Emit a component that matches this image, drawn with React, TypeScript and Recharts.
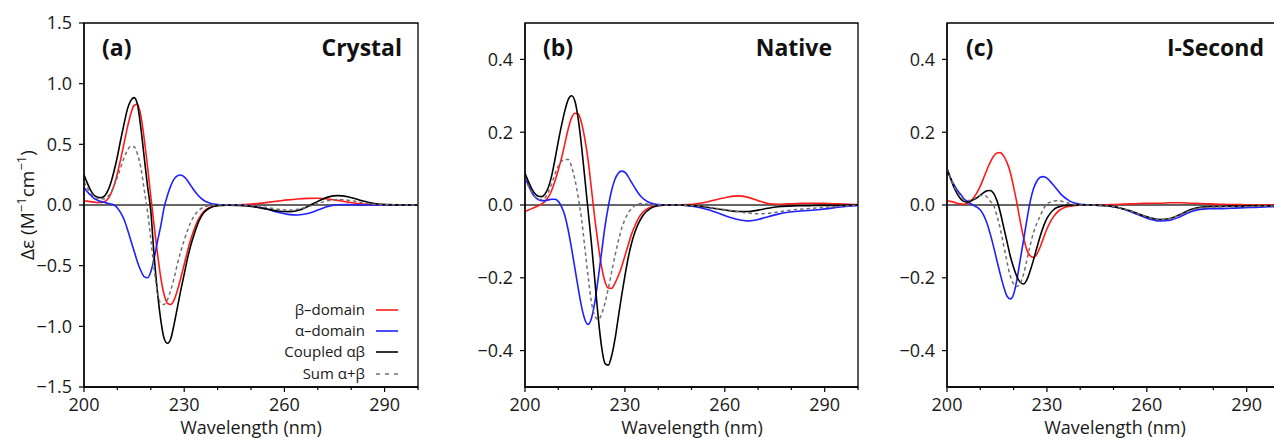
import { LineChart, Line, XAxis, YAxis, ReferenceLine, ReferenceArea } from "recharts";

const FONT = "'Open Sans', 'DejaVu Sans', sans-serif";
const RED = "#ff1a1a";
const BLUE = "#1f1fff";
const BLACK = "#000000";
const GRAY = "#707070";

// wavelength grid (nm): 1 nm steps through the main bands, 3 nm in the tail
const wavelengths = [
  200, 201, 202, 203, 204, 205, 206, 207, 208, 209, 210, 211, 212, 213, 214, 215, 216, 217, 218, 219, 220,
  221, 222, 223, 224, 225, 226, 227, 228, 229, 230, 231, 232, 233, 234, 235, 236, 237, 238, 239, 240,
  243, 246, 249, 252, 255, 258, 261, 264, 267, 270, 273, 276, 279, 282, 285, 288, 291, 294, 297, 300,
];

const xTicks = [200, 210, 220, 230, 240, 250, 260, 270, 280, 290, 300];
const xMajor = [200, 230, 260, 290];
const crystalTicks = [-1.5, -1.0, -0.5, 0, 0.5, 1.0, 1.5];
const smallTicks = [-0.4, -0.2, 0, 0.2, 0.4];

// (a) Crystal
const crystalBeta = [
  0.035, 0.032, 0.028, 0.024, 0.02, 0.02, 0.025, 0.045, 0.09, 0.16, 0.26, 0.38, 0.51, 0.64, 0.75, 0.82, 0.83, 0.74, 0.55, 0.32, 0.07,
  -0.17, -0.4, -0.6, -0.74, -0.81, -0.82, -0.78, -0.7, -0.6, -0.49, -0.38, -0.28, -0.2, -0.13, -0.085, -0.05, -0.03, -0.017, -0.009, -0.004,
  0, 0.002, 0.006, 0.013, 0.022, 0.032, 0.042, 0.05, 0.055, 0.056, 0.05, 0.038, 0.024, 0.012, 0.005, 0.002, 0.001, 0, 0, 0,
];
const crystalAlpha = [
  0.145, 0.11, 0.08, 0.055, 0.04, 0.03, 0.022, 0.015, 0.008, 0.0, -0.025, -0.065, -0.12, -0.2, -0.29, -0.38, -0.47, -0.54, -0.59, -0.6, -0.55,
  -0.44, -0.3, -0.17, -0.02, 0.08, 0.16, 0.215, 0.242, 0.247, 0.232, 0.2, 0.16, 0.12, 0.085, 0.057, 0.036, 0.022, 0.013, 0.007, 0.004,
  0.001, 0, -0.004, -0.015, -0.035, -0.06, -0.077, -0.082, -0.07, -0.042, -0.012, 0.002, 0.003, 0.001, 0, 0, 0, 0, 0, 0,
];
const crystalCoupled = [
  0.25, 0.18, 0.12, 0.08, 0.065, 0.06, 0.07, 0.11, 0.18, 0.28, 0.4, 0.54, 0.67, 0.79, 0.86, 0.885, 0.83, 0.64, 0.4, 0.16, -0.05,
  -0.42, -0.72, -0.95, -1.1, -1.14, -1.1, -0.98, -0.84, -0.7, -0.57, -0.44, -0.33, -0.24, -0.16, -0.1, -0.06, -0.035, -0.02, -0.01, -0.005,
  -0.002, -0.003, -0.008, -0.02, -0.035, -0.05, -0.055, -0.045, -0.012, 0.03, 0.065, 0.077, 0.068, 0.045, 0.022, 0.008, 0.003, 0.001, 0, 0,
];
const crystalSum = [
  0.19, 0.14, 0.1, 0.07, 0.055, 0.05, 0.05, 0.065, 0.1, 0.16, 0.23, 0.31, 0.39, 0.45, 0.485, 0.48, 0.42, 0.31, 0.13, -0.05, -0.28,
  -0.53, -0.72, -0.81, -0.82, -0.78, -0.7, -0.6, -0.48, -0.38, -0.29, -0.21, -0.14, -0.09, -0.055, -0.03, -0.017, -0.009, -0.005, -0.002, -0.001,
  -0.001, 0, -0.003, -0.01, -0.022, -0.035, -0.042, -0.035, -0.015, 0.012, 0.035, 0.045, 0.04, 0.027, 0.013, 0.005, 0.002, 0.001, 0, 0,
];

// (b) Native
const nativeBeta = [
  -0.018, -0.014, -0.01, -0.006, -0.002, 0.003, 0.01, 0.022, 0.04, 0.066, 0.096, 0.13, 0.17, 0.21, 0.24, 0.252, 0.25, 0.225, 0.18, 0.12, 0.04,
  -0.04, -0.11, -0.17, -0.21, -0.228, -0.229, -0.215, -0.195, -0.17, -0.14, -0.11, -0.08, -0.057, -0.038, -0.024, -0.015, -0.009, -0.005, -0.003, -0.001,
  0, 0, 0.001, 0.004, 0.009, 0.016, 0.022, 0.025, 0.021, 0.012, 0.004, 0.002, 0.003, 0.004, 0.005, 0.005, 0.004, 0.003, 0.002, 0.001,
];
const nativeAlpha = [
  0.075, 0.055, 0.035, 0.022, 0.015, 0.012, 0.012, 0.014, 0.016, 0.016, 0.01, -0.005, -0.03, -0.07, -0.12, -0.175, -0.23, -0.28, -0.315, -0.328, -0.31,
  -0.265, -0.2, -0.13, -0.06, -0.005, 0.04, 0.07, 0.087, 0.093, 0.09, 0.078, 0.062, 0.047, 0.033, 0.022, 0.014, 0.008, 0.005, 0.003, 0.001,
  0, 0, -0.002, -0.006, -0.013, -0.022, -0.032, -0.04, -0.044, -0.04, -0.032, -0.025, -0.02, -0.017, -0.015, -0.013, -0.01, -0.006, -0.003, -0.001,
];
const nativeCoupled = [
  0.087, 0.065, 0.045, 0.031, 0.024, 0.023, 0.03, 0.048, 0.08, 0.125, 0.175, 0.22, 0.26, 0.29, 0.3, 0.285, 0.235, 0.16, 0.07, -0.02, -0.11,
  -0.21, -0.31, -0.39, -0.435, -0.44, -0.415, -0.37, -0.31, -0.25, -0.195, -0.145, -0.105, -0.075, -0.052, -0.035, -0.022, -0.014, -0.008, -0.004, -0.002,
  0, 0, -0.001, -0.003, -0.007, -0.011, -0.015, -0.018, -0.018, -0.014, -0.009, -0.005, -0.003, -0.002, -0.002, -0.001, -0.001, -0.001, 0, 0,
];
const nativeSum = [
  0.075, 0.052, 0.035, 0.022, 0.016, 0.015, 0.02, 0.035, 0.058, 0.085, 0.107, 0.12, 0.125, 0.125, 0.105, 0.07, 0.02, -0.04, -0.12, -0.2, -0.27,
  -0.305, -0.315, -0.3, -0.27, -0.23, -0.185, -0.14, -0.1, -0.065, -0.04, -0.022, -0.01, -0.002, 0.003, 0.004, 0.003, 0.002, 0.001, 0, 0,
  0, 0, -0.001, -0.003, -0.006, -0.01, -0.014, -0.018, -0.022, -0.024, -0.023, -0.019, -0.015, -0.012, -0.01, -0.008, -0.006, -0.004, -0.002, -0.001,
];

// (c) I-Second
const secondBeta = [
  0.012, 0.01, 0.008, 0.005, 0.003, 0.002, 0.004, 0.01, 0.02, 0.034, 0.052, 0.074, 0.097, 0.118, 0.134, 0.143, 0.144, 0.135, 0.117, 0.09, 0.05,
  0.005, -0.045, -0.09, -0.124, -0.14, -0.144, -0.135, -0.115, -0.09, -0.066, -0.047, -0.032, -0.021, -0.013, -0.008, -0.005, -0.003, -0.002, -0.001, 0,
  0, 0, 0.001, 0.002, 0.003, 0.004, 0.005, 0.005, 0.006, 0.006, 0.005, 0.004, 0.003, 0.002, 0.001, 0.001, 0, 0, 0, 0,
];
const secondAlpha = [
  0.096, 0.075, 0.057, 0.042, 0.03, 0.018, 0.01, 0.004, -0.001, -0.006, -0.014, -0.028, -0.05, -0.08, -0.115, -0.153, -0.19, -0.224, -0.25, -0.258, -0.245,
  -0.205, -0.15, -0.096, -0.04, 0.01, 0.045, 0.066, 0.076, 0.078, 0.074, 0.065, 0.054, 0.043, 0.032, 0.023, 0.016, 0.01, 0.006, 0.004, 0.002,
  0, -0.001, -0.003, -0.009, -0.018, -0.029, -0.039, -0.044, -0.042, -0.032, -0.019, -0.012, -0.01, -0.01, -0.009, -0.008, -0.007, -0.006, -0.005, -0.004,
];
const secondCoupled = [
  0.1, 0.075, 0.05, 0.032, 0.018, 0.01, 0.008, 0.01, 0.015, 0.02, 0.027, 0.034, 0.039, 0.04, 0.032, 0.012, -0.02, -0.06, -0.1, -0.14, -0.172,
  -0.197, -0.212, -0.217, -0.205, -0.18, -0.15, -0.117, -0.085, -0.058, -0.037, -0.023, -0.013, -0.007, -0.004, -0.002, -0.001, 0, 0, 0, 0,
  0, -0.001, -0.003, -0.008, -0.016, -0.026, -0.035, -0.04, -0.037, -0.026, -0.013, -0.006, -0.004, -0.004, -0.003, -0.003, -0.002, -0.002, -0.002, -0.001,
];
const secondSum = [
  0.1, 0.076, 0.054, 0.037, 0.024, 0.015, 0.012, 0.013, 0.017, 0.022, 0.026, 0.027, 0.022, 0.01, 0.0, -0.03, -0.065, -0.11, -0.155, -0.195, -0.217,
  -0.224, -0.215, -0.19, -0.15, -0.11, -0.075, -0.05, -0.03, -0.01, 0.003, 0.008, 0.011, 0.012, 0.011, 0.009, 0.006, 0.004, 0.002, 0.001, 0,
  0, -0.001, -0.003, -0.008, -0.016, -0.026, -0.035, -0.04, -0.037, -0.027, -0.015, -0.008, -0.006, -0.005, -0.005, -0.004, -0.004, -0.003, -0.003, -0.002,
];

const fmt = (v: number) => (v < 0 ? "\u2212" : "") + Math.abs(v).toFixed(1);

function XTick(props: any) {
  const { x, y, payload } = props;
  const major = xMajor.includes(payload.value);
  return (
    <g>
      <line x1={x} x2={x} y1={y} y2={y + (major ? 5 : 3)} stroke="#000" strokeWidth={1.2} />
      {major && (
        <text x={x} y={y + 24} textAnchor="middle" fontSize={18} fill="#1a1a1a" fontFamily={FONT}>
          {payload.value}
        </text>
      )}
    </g>
  );
}

type PanelProps = {
  beta: number[];
  alpha: number[];
  coupled: number[];
  sum: number[];
  yDomain: [number, number];
  yTicks: number[];
  left: number;
  width: number;
  yAxisWidth: number;
  rightMargin: number;
};

function Panel(p: PanelProps) {
  const rows = wavelengths.map((nm, i) => ({
    nm,
    beta: p.beta[i],
    alpha: p.alpha[i],
    coupled: p.coupled[i],
    sum: p.sum[i],
  }));
  return (
    <div style={{ position: "absolute", left: p.left, top: 0 }}>
      <LineChart width={p.width} height={438} data={rows} margin={{ top: 23, right: p.rightMargin, bottom: 21, left: 0 }}>
        <XAxis
          dataKey="nm"
          type="number"
          domain={[200, 300]}
          ticks={xTicks}
          interval={0}
          tick={(t: any) => <XTick {...t} />}
          tickLine={false}
          tickSize={0}
          tickMargin={0}
          height={30}
          axisLine={{ stroke: "#000", strokeWidth: 1.3 }}
          allowDataOverflow
        />
        <YAxis
          type="number"
          domain={p.yDomain}
          ticks={p.yTicks}
          interval={0}
          width={p.yAxisWidth}
          tickSize={5}
          tickMargin={7}
          tickFormatter={fmt}
          tick={{ fontSize: 18, fill: "#1a1a1a", fontFamily: FONT }}
          tickLine={{ stroke: "#000", strokeWidth: 1.2 }}
          axisLine={{ stroke: "#000", strokeWidth: 1.3 }}
          allowDataOverflow
        />
        <ReferenceArea x1={200} x2={300} y1={p.yDomain[0]} y2={p.yDomain[1]} fill="none" stroke="#000" strokeWidth={1.3} ifOverflow="visible" />
        <ReferenceLine y={0} stroke="#333" strokeWidth={1.3} />
        <Line dataKey="beta" type="monotone" stroke={RED} strokeWidth={1.6} dot={false} isAnimationActive={false} />
        <Line dataKey="alpha" type="monotone" stroke={BLUE} strokeWidth={1.6} dot={false} isAnimationActive={false} />
        <Line dataKey="coupled" type="monotone" stroke={BLACK} strokeWidth={1.6} dot={false} isAnimationActive={false} />
        <Line dataKey="sum" type="monotone" stroke={GRAY} strokeWidth={1.5} strokeDasharray="3.5 3" dot={false} isAnimationActive={false} />
      </LineChart>
    </div>
  );
}

const legendItems = [
  { label: "β–domain", color: RED, dash: undefined as string | undefined, baseline: 315 },
  { label: "α–domain", color: BLUE, dash: undefined, baseline: 336 },
  { label: "Coupled αβ", color: BLACK, dash: undefined, baseline: 357 },
  { label: "Sum α+β", color: GRAY, dash: "4 5", baseline: 379 },
];

export default function App() {
  return (
    <div style={{ position: "absolute", left: 0, top: 0, width: 1274, height: 438, overflow: "hidden", background: "#fff" }}>
      <Panel beta={crystalBeta} alpha={crystalAlpha} coupled={crystalCoupled} sum={crystalSum}
        yDomain={[-1.5, 1.5]} yTicks={crystalTicks} left={0} width={430} yAxisWidth={84} rightMargin={12} />
      <Panel beta={nativeBeta} alpha={nativeAlpha} coupled={nativeCoupled} sum={nativeSum}
        yDomain={[-0.5, 0.5]} yTicks={smallTicks} left={430} width={440} yAxisWidth={95} rightMargin={12} />
      <Panel beta={secondBeta} alpha={secondAlpha} coupled={secondCoupled} sum={secondSum}
        yDomain={[-0.5, 0.5]} yTicks={smallTicks} left={870} width={420} yAxisWidth={77} rightMargin={10} />
      <svg width={1274} height={438} style={{ position: "absolute", left: 0, top: 0, pointerEvents: "none" }} fontFamily={FONT}>
        <text x={102} y={56} fontSize={23} fontWeight={700} fill="#111">(a)</text>
        <text x={402} y={56} fontSize={23} fontWeight={700} fill="#111" textAnchor="end">Crystal</text>
        <text x={543} y={56} fontSize={23} fontWeight={700} fill="#111">(b)</text>
        <text x={832} y={56} fontSize={23} fontWeight={700} fill="#111" textAnchor="end">Native</text>
        <text x={966} y={56} fontSize={23} fontWeight={700} fill="#111">(c)</text>
        <text x={1264} y={56} fontSize={23} fontWeight={700} fill="#111" textAnchor="end">I-Second</text>

        <text x={251} y={434} fontSize={18} fill="#1a1a1a" textAnchor="middle">Wavelength (nm)</text>
        <text x={692} y={434} fontSize={18} fill="#1a1a1a" textAnchor="middle">Wavelength (nm)</text>
        <text x={1115} y={434} fontSize={18} fill="#1a1a1a" textAnchor="middle">Wavelength (nm)</text>

        <text x={34} y={205} fontSize={19} fill="#1a1a1a" textAnchor="middle" transform="rotate(-90 34 205)">
          Δε (M<tspan fontSize={13} dy={-8}>−1</tspan><tspan dy={8}>cm</tspan><tspan fontSize={13} dy={-8}>−1</tspan><tspan dy={8}>)</tspan>
        </text>

        {legendItems.map((it) => (
          <g key={it.label}>
            <text x={365} y={it.baseline} fontSize={15} fill="#1a1a1a" textAnchor="end">{it.label}</text>
            <line x1={376} x2={398} y1={it.baseline - 5} y2={it.baseline - 5} stroke={it.color} strokeWidth={1.6} strokeDasharray={it.dash} />
          </g>
        ))}
      </svg>
    </div>
  );
}
